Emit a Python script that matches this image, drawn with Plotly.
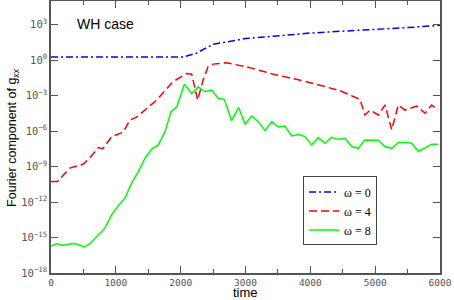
import plotly.graph_objects as go

# ---- data ----
t_w0 = [0, 500, 1000, 1500, 2036, 2230, 2500, 3000, 3500, 4000, 4500, 5000, 5500, 6000]
g_w0 = [1.86, 1.86, 1.86, 1.86, 1.86, 3.6, 21.9, 66, 120, 195, 282, 380, 562, 871]

t_w4 = [0, 100, 290, 500, 600, 730, 800, 935, 1110, 1220, 1320, 1475, 1630, 1882,
        2093, 2170, 2263, 2345, 2422, 2500, 2710, 3019, 3430, 3944, 4458, 4766,
        4843, 4920, 5049, 5152, 5255, 5357, 5460, 5640, 5769, 5872, 5970]
g_w4 = [5.5e-11, 5.5e-11, 7.4e-10, 1.6e-9, 5.5e-9, 4.0e-8, 3.2e-8, 3.4e-7, 7.9e-7,
        8.7e-6, 1.5e-5, 8.3e-5, 4.2e-4, 1.5e-2, 7.4e-2, 6.5e-2, 4.2e-4, 2.0e-2,
        0.27, 0.46, 0.59, 0.27, 0.065, 0.015, 2.6e-3, 4.8e-4, 2.3e-5, 6.0e-5,
        2.3e-5, 1.6e-4, 1.3e-6, 1.6e-4, 6.0e-5, 1.3e-4, 3.2e-5, 1.6e-4, 6.0e-5]

t_w8 = [0, 87, 190, 318, 395, 514, 602, 730, 833, 936, 1039, 1141, 1244, 1347, 1450,
        1553, 1656, 1758, 1851, 1939, 2057, 2170, 2272, 2376, 2479, 2581, 2673, 2786,
        2893, 2993, 3096, 3198, 3301, 3404, 3506, 3609, 3712, 3815, 3918, 4020, 4123,
        4226, 4329, 4431, 4535, 4638, 4740, 4843, 5049, 5152, 5255, 5357, 5460, 5563,
        5666, 5872, 5970]
g_w8 = [1.8e-16, 3.1e-16, 2.1e-16, 3.1e-16, 2.8e-16, 1.6e-16, 3.0e-16, 1.8e-15,
        6.5e-15, 8.5e-14, 5.0e-13, 2.2e-12, 4.0e-11, 3.8e-10, 5.1e-9, 3.0e-8, 6.8e-8,
        8.9e-7, 4.4e-5, 1.1e-4, 9.3e-3, 1.5e-3, 5.5e-3, 2.1e-3, 2.9e-3, 5.9e-4, 4.8e-4,
        7.6e-6, 1.0e-4, 4.0e-6, 1.9e-5, 6.3e-6, 1.1e-6, 6.3e-6, 2.3e-6, 2.7e-6, 3.9e-7,
        5.4e-7, 3.4e-7, 6.8e-8, 2.8e-7, 9.3e-8, 3.0e-7, 2.0e-7, 2.5e-7, 4.9e-8, 3.5e-8,
        1.8e-7, 1.7e-7, 4.9e-8, 3.5e-8, 1.1e-7, 1.1e-7, 9.3e-8, 1.9e-8, 7.8e-8, 7.8e-8]

y_tickvals = [1e-18, 1e-15, 1e-12, 1e-9, 1e-6, 1e-3, 1e0, 1e3]
y_ticktext = ["10<sup>\u221218</sup>", "10<sup>\u221215</sup>", "10<sup>\u221212</sup>",
              "10<sup>\u22129</sup>", "10<sup>\u22126</sup>", "10<sup>\u22123</sup>",
              "10<sup>0</sup>", "10<sup>3</sup>"]
x_tickvals = [0, 1000, 2000, 3000, 4000, 5000, 6000]

fig = go.Figure()
fig.add_trace(go.Scatter(x=t_w0, y=g_w0, mode="lines", name="\u03c9 = 0",
                         line=dict(color="#0000ff", width=1.5, dash="7px,3px,2px,3px")))
fig.add_trace(go.Scatter(x=t_w4, y=g_w4, mode="lines", name="\u03c9 = 4",
                         line=dict(color="#ff0000", width=1.5, dash="8px,4px")))
fig.add_trace(go.Scatter(x=t_w8, y=g_w8, mode="lines", name="\u03c9 = 8",
                         line=dict(color="#00ff00", width=1.5)))

fig.add_annotation(text="WH case", xref="x", yref="paper", x=840, y=0.915,
                   showarrow=False, xanchor="center", yanchor="middle",
                   font=dict(family="Liberation Sans, Arial", size=14, color="black"))
# axis titles placed as annotations for exact positioning
fig.add_annotation(text="time", xref="paper", yref="paper", x=0.5, y=-0.073,
                   showarrow=False, xanchor="center", yanchor="middle", borderpad=0,
                   font=dict(family="Liberation Sans, Arial", size=13, color="black"))
fig.add_annotation(text="Fourier component of g<sub>xx</sub>", xref="paper", yref="paper",
                   x=-0.098, y=0.5, textangle=-90, showarrow=False,
                   xanchor="center", yanchor="middle",
                   font=dict(family="Liberation Sans, Arial", size=12.5, color="black"))

axis_common = dict(showline=True, linecolor="#555555", linewidth=1.5, mirror="ticks",
                   ticks="inside", ticklen=7, tickcolor="#555555", tickwidth=1,
                   showgrid=False, zeroline=False, automargin=False)

fig.update_xaxes(range=[0, 6000], tickvals=x_tickvals, **axis_common,
                 minor=dict(dtick=500, tick0=0, ticks="inside", ticklen=4,
                            tickcolor="#555555", showgrid=False),
                 tickfont=dict(family="DejaVu Sans Mono", size=9.5, color="#555555"))
fig.update_yaxes(type="log", range=[-18, 5], tickvals=y_tickvals, ticktext=y_ticktext,
                 **axis_common,
                 tickfont=dict(family="DejaVu Sans Mono", size=10.5, color="#555555"))

fig.update_layout(width=454, height=300, margin=dict(l=51, r=14, t=1, b=27),
                  plot_bgcolor="white", paper_bgcolor="white",
                  legend=dict(x=0.648, y=0.355, xanchor="left", yanchor="top",
                              bgcolor="white", bordercolor="#444444", borderwidth=1,
                              font=dict(family="Liberation Serif, Times New Roman", size=12,
                                        color="black"),
                              tracegroupgap=0, itemwidth=30))

fig.write_html("out.html", post_script="document.body.style.margin='0';",
               config={"displayModeBar": False})
